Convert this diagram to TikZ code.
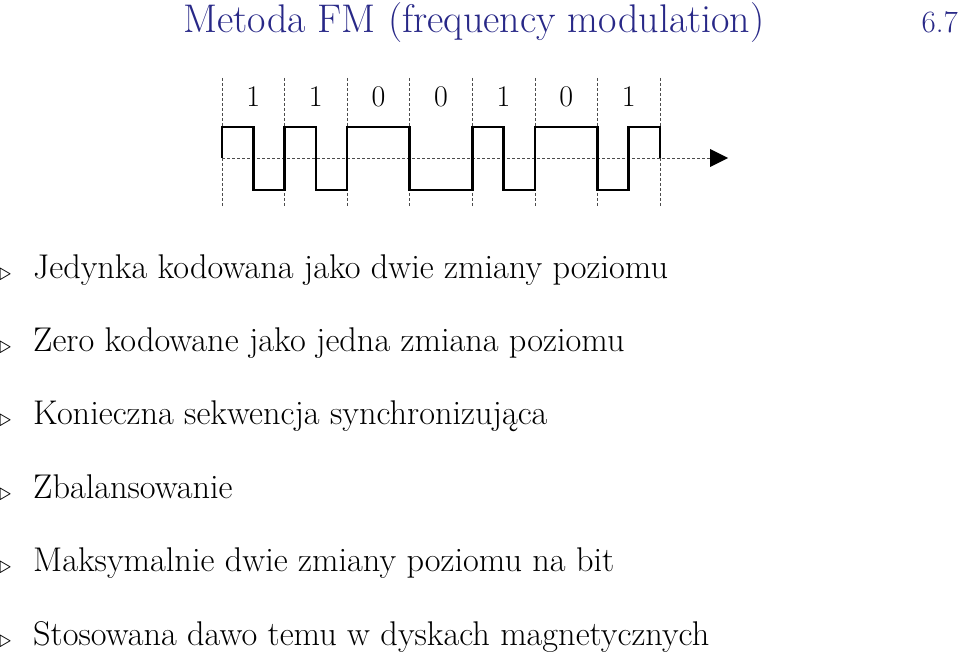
\documentclass[tikz,border=0pt]{standalone}
\usepackage{fontspec}
\definecolor{titleblue}{RGB}{40,40,135}
\begin{document}
\begin{tikzpicture}[x=1pt,y=-1pt,
  item/.style={anchor=base west,inner sep=0pt,font=\fontsize{34.3}{40}\selectfont},
  bull/.style={anchor=base west,inner sep=0pt,font=\fontsize{36}{40}\selectfont},
  bitlbl/.style={inner sep=0pt,font=\fontsize{30}{34}\selectfont},
  grid/.style={densely dashed,line width=0.7pt,gray!60!black},
  sig/.style={line width=2.6pt,line join=miter}]
\useasboundingbox (0,0) rectangle (960,652);
\node[anchor=base west,inner sep=0pt,text=titleblue,font=\fontsize{40}{46}\selectfont] (title) at (183,33) {Metoda FM (frequency modulation)};
\node[anchor=base east,inner sep=0pt,text=titleblue,font=\fontsize{31}{36}\selectfont] (num) at (958,33) {6.7};
\foreach \i in {0,...,7} {
  \coordinate (t\i) at (222+62.57*\i,78);
  \coordinate (b\i) at (222+62.57*\i,207);
  \draw[grid] (t\i) -- (b\i);
}
\foreach \b [count=\i from 0] in {1,1,0,0,1,0,1} {
  \node[bitlbl] (l\i) at (253.3+62.57*\i,97) {\b};
}
\coordinate (ax0) at (222,158);
\coordinate (ax1) at (728,158);
\draw[grid] (ax0) -- (710,158);
\fill (710,149) -- (ax1) -- (710,167) -- cycle;
\draw[sig] (222,158) -- (222,127) -- (253.3,127) -- (253.3,190) -- (284.6,190) -- (284.6,127) -- (315.9,127) -- (315.9,190) -- (347.1,190) -- (347.1,127) -- (409.7,127) -- (409.7,190) -- (472.3,190) -- (472.3,127) -- (503.6,127) -- (503.6,190) -- (534.9,190) -- (534.9,127) -- (597.4,127) -- (597.4,190) -- (628.7,190) -- (628.7,127) -- (660,127) -- (660,158);
\foreach \t [count=\i from 0] in {Jedynka kodowana jako dwie zmiany poziomu,
  Zero kodowane jako jedna zmiana poziomu,
  Konieczna sekwencja synchronizująca,
  Zbalansowanie,
  Maksymalnie dwie zmiany poziomu na bit,
  Stosowana dawo temu w dyskach magnetycznych} {
  \node[bull] (m\i) at (-1,280+73.4*\i) {$\triangleright$};
  \node[item] (i\i) at (33,278+73.4*\i) {\t};
}
\end{tikzpicture}
\end{document}
